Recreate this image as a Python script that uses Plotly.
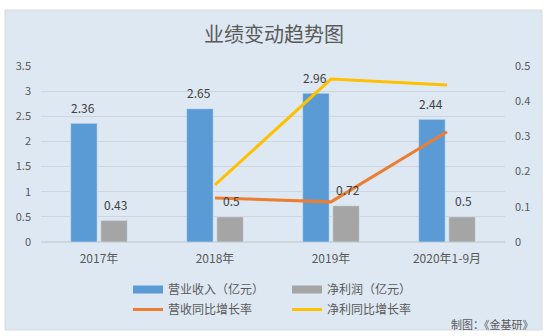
import plotly.graph_objects as go

categories = ["2017年", "2018年", "2019年", "2020年1-9月"]
revenue = [2.36, 2.65, 2.96, 2.44]
net_profit = [0.43, 0.5, 0.72, 0.5]
rev_growth = [None, 0.125, 0.114, 0.313]
profit_growth = [None, 0.162, 0.463, 0.446]

W, H = 549, 336
L, R, T, B = 41, 505, 66, 242
FONT = "Noto Sans CJK SC, Noto Sans, sans-serif"
TXT = "#595959"
BG = "#dee8f3"
BLUE, GRAY, ORANGE, YELLOW = "#5b9bd5", "#a5a5a5", "#ed7d31", "#ffc000"

def px(x):
    return (x - L) / (R - L)

def py(y):
    return (B - y) / (B - T)

fig = go.Figure()
fig.add_trace(go.Bar(x=categories, y=revenue, name="营业收入（亿元）", marker_color=BLUE,
                     showlegend=False, legendgroup="rev"))
fig.add_trace(go.Bar(x=categories, y=net_profit, name="净利润（亿元）", marker_color=GRAY,
                     showlegend=False, legendgroup="np"))
# legend proxies drawn as wide swatches, like the reference
fig.add_trace(go.Scatter(x=[None], y=[None], name="营业收入（亿元）", mode="lines",
                         line=dict(color=BLUE, width=8), legend="legend", legendgroup="rev"))
fig.add_trace(go.Scatter(x=[None], y=[None], name="净利润（亿元）", mode="lines",
                         line=dict(color=GRAY, width=8), legend="legend", legendgroup="np"))
fig.add_trace(go.Scatter(x=categories, y=rev_growth, name="营收同比增长率", mode="lines",
                         line=dict(color=ORANGE, width=3), yaxis="y2", legend="legend2"))
fig.add_trace(go.Scatter(x=categories, y=profit_growth, name="净利同比增长率", mode="lines",
                         line=dict(color=YELLOW, width=3), yaxis="y2", legend="legend2"))

annotations = []
for vals, shift in ((revenue, -16.5), (net_profit, 16.5)):
    for c, v in zip(categories, vals):
        annotations.append(dict(x=c, y=v, xref="x", yref="y", text=f"{v:g}", showarrow=False,
                                xanchor="center", yanchor="middle",
                                xshift=shift, yshift=16, font=dict(size=12, color="#404040", family=FONT)))

annotations.append(dict(x=px(273.5), y=py(34), xref="paper", yref="paper", text="业绩变动趋势图",
                        showarrow=False, xanchor="center", yanchor="middle",
                        font=dict(size=20, color=TXT, family=FONT)))
annotations.append(dict(x=px(536), y=py(324), xref="paper", yref="paper", text="制图：《金基研》",
                        showarrow=False, xanchor="right", yanchor="middle",
                        font=dict(size=11, color=TXT, family=FONT)))

fig.update_layout(
    width=W, height=H,
    margin=dict(l=L, r=W - R, t=T, b=H - B, pad=0, autoexpand=False),
    paper_bgcolor="white",
    plot_bgcolor="rgba(0,0,0,0)",
    barmode="group", bargap=0.48, bargroupgap=0.12,
    font=dict(family=FONT, size=11, color=TXT),
    xaxis=dict(showgrid=False, showline=False, zeroline=False, ticks="", automargin=False,
               tickfont=dict(size=12, color=TXT), ticklabelstandoff=8),
    yaxis=dict(range=[0, 3.5], dtick=0.5, showgrid=True, gridcolor="#cdd5de", gridwidth=1,
               zeroline=True, zerolinecolor="#cdd5de", showline=False, automargin=False,
               tickfont=dict(size=11, color=TXT), ticklabelstandoff=9),
    yaxis2=dict(range=[0, 0.5], dtick=0.1, overlaying="y", side="right", showgrid=False,
                zeroline=False, showline=False, tickformat="~g", automargin=False,
                tickfont=dict(size=11, color=TXT), ticklabelstandoff=9),
    legend=dict(orientation="h", xref="container", yref="container", x=128 / W, y=1 - 275 / H,
                xanchor="left", yanchor="top", entrywidth=114, bgcolor="rgba(0,0,0,0)",
                font=dict(size=12, color=TXT, family=FONT), itemclick=False, traceorder="normal"),
    legend2=dict(orientation="h", xref="container", yref="container", x=128 / W, y=1 - 295 / H,
                 xanchor="left", yanchor="top", entrywidth=114, bgcolor="rgba(0,0,0,0)",
                 font=dict(size=12, color=TXT, family=FONT), itemclick=False, traceorder="normal"),
    annotations=annotations,
    shapes=[dict(type="rect", xref="paper", yref="paper", x0=px(5), x1=px(542), y0=py(330), y1=py(10),
                 fillcolor=BG, line=dict(color="#d9d9d9", width=1), layer="below")],
)

fig.write_html("out.html")
